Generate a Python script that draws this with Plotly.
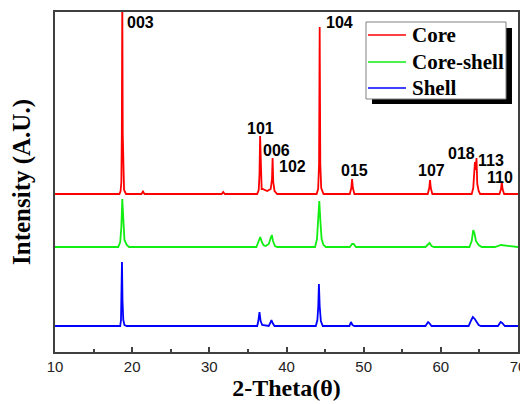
import plotly.graph_objects as go

# ---- data (2-theta in degrees, intensity above each pattern's own baseline, arbitrary units) ----
core_x = [10.0, 18.35, 18.5, 18.6, 18.66, 18.72, 18.78, 18.85, 18.95, 19.2,
          21.2, 21.4, 21.6, 31.6, 31.8, 32.0,
          36.2, 36.4, 36.5, 36.58, 36.66, 36.78, 36.9, 37.5, 37.95, 38.12, 38.2, 38.28, 38.45, 38.8,
          43.9, 44.1, 44.22, 44.3, 44.38, 44.5, 44.8,
          48.2, 48.4, 48.5, 48.6, 48.8,
          58.3, 58.5, 58.6, 58.7, 58.9,
          64.0, 64.2, 64.35, 64.42, 64.5, 64.62, 64.72, 64.9, 65.1,
          67.6, 67.8, 67.9, 68.0, 68.2, 70.0]
core_y = [0, 0, 3, 12, 60, 200, 60, 12, 4, 0,
          0, 2.5, 0, 0, 2, 0,
          0, 4, 20, 58, 20, 5, 5, 3, 5, 15, 36, 12, 3, 0,
          0, 5, 30, 167, 30, 6, 0,
          0, 6, 15, 6, 0,
          0, 6, 14, 6, 0,
          0, 6, 26, 32, 24, 36, 10, 3, 0,
          0, 5, 12, 5, 0, 0]

coreshell_x = [10.0, 18.2, 18.45, 18.6, 18.72, 18.85, 19.0, 19.3, 19.6,
               36.1, 36.4, 36.6, 36.8, 37.0, 37.3, 37.7, 37.95, 38.1, 38.25, 38.5, 38.8,
               43.7, 43.95, 44.1, 44.25, 44.4, 44.55, 44.8, 45.1,
               48.2, 48.5, 48.7, 49.0,
               58.0, 58.4, 58.55, 58.8, 59.1,
               63.7, 64.0, 64.2, 64.35, 64.55, 64.9, 65.3,
               67.0, 67.8, 68.3, 70.0]
coreshell_y = [0, 0, 5, 20, 48, 20, 7, 2, 0,
               0, 5, 10, 5, 2, 1, 3, 9, 12, 6, 1, 0,
               0, 8, 25, 46, 25, 8, 2, 0,
               0, 3, 3, 0,
               0, 3, 4, 1, 0,
               0, 6, 17, 14, 6, 2, 0,
               0, 2, 1.5, 0]

shell_x = [10.0, 18.45, 18.55, 18.62, 18.68, 18.75, 18.85, 19.0, 19.3,
           36.2, 36.35, 36.5, 36.65, 36.85, 37.7, 37.9, 38.05, 38.2, 38.45,
           43.8, 44.0, 44.12, 44.2, 44.3, 44.45, 44.7,
           48.15, 48.35, 48.55, 48.8,
           58.0, 58.35, 58.5, 58.8,
           63.6, 63.95, 64.15, 64.4, 64.6, 64.9, 65.2,
           67.4, 67.75, 67.95, 68.3, 70.0]
shell_y = [0, 0, 6, 25, 64, 25, 6, 1, 0,
           0, 5, 14, 5, 1, 0, 3, 6, 3, 0,
           0, 6, 20, 42, 20, 5, 0,
           0, 4, 1, 0,
           0, 4, 3, 0,
           0, 6, 9, 7, 4, 1, 0,
           0, 4, 3, 0, 0]

series_names = ["Core", "Core-shell", "Shell"]
series_offsets = [158, 105, 26]   # vertical stacking of the patterns

peak_labels = ["003", "104", "101", "006", "102", "015", "107", "018", "113", "110"]
label_x = [21.08, 46.93, 36.69, 38.64, 40.78, 48.81, 58.79, 62.68, 66.56, 67.67]
label_y = [329.5, 330, 224, 202, 185.5, 182, 182, 199, 191.5, 175]

x_ticks = [10, 20, 30, 40, 50, 60, 70]

colors = ["#ff0000", "#11ee11", "#0000ff"]

fig = go.Figure()
for name, xs, ys, off, col in zip(series_names,
                                  [core_x, coreshell_x, shell_x],
                                  [core_y, coreshell_y, shell_y],
                                  series_offsets, colors):
    fig.add_trace(go.Scatter(x=xs, y=[v + off for v in ys], mode="lines", name=name,
                             line=dict(color=col, width=1.8), showlegend=False))

for t, lx, ly in zip(peak_labels, label_x, label_y):
    fig.add_annotation(x=lx, y=ly, text=t, showarrow=False, xanchor="center", yanchor="middle",
                       font=dict(family="Liberation Sans", size=16, color="black", weight="bold"))

# ---- legend box drawn by hand (with drop shadow) ----
LX0, LX1, LY0, LY1 = 0.6717, 0.9741, 0.7441, 0.9706
fig.add_shape(type="rect", xref="paper", yref="paper", x0=0.6847, x1=0.9870, y0=0.7294, y1=0.9529,
              fillcolor="black", line=dict(width=0), layer="above")
fig.add_shape(type="rect", xref="paper", yref="paper", x0=LX0, x1=LX1, y0=LY0, y1=LY1,
              fillcolor="white", line=dict(color="#808080", width=1), layer="above")
row_y = [0.9324, 0.8529, 0.7765]
for name, col, ry in zip(series_names, colors, row_y):
    fig.add_shape(type="line", xref="paper", yref="paper", x0=0.6760, x1=0.7581, y0=ry, y1=ry,
                  line=dict(color=col, width=1.5), layer="above")
    fig.add_annotation(xref="paper", yref="paper", x=0.7667, y=ry, text=name, showarrow=False,
                       xanchor="left", yanchor="middle",
                       font=dict(family="Liberation Serif", size=21, color="black", weight="bold"))

# page has an 8 px body margin, so the figure is drawn 8 px in from the window's corner
fig.update_layout(
    width=520, height=396,
    margin=dict(l=47, r=10, t=4, b=52),
    paper_bgcolor="white", plot_bgcolor="white",
    showlegend=False,
    xaxis=dict(range=[10, 70], tickvals=x_ticks, ticktext=[str(v) for v in x_ticks],
               automargin=False,
               showgrid=False, zeroline=False, showline=True, linecolor="#404040", linewidth=2,
               mirror=True, ticks="inside", ticklen=5, tickwidth=1.5, tickcolor="#404040",
               minor=dict(ticks="inside", dtick=5, ticklen=3, tickwidth=1.5, tickcolor="#404040"),
               tickfont=dict(family="Liberation Sans", size=15, color="#222222"),
               title=dict(text="2-Theta(θ)", standoff=5,
                          font=dict(family="Liberation Serif", size=24, color="black", weight="bold"))),
    yaxis=dict(range=[0, 340], showticklabels=False, ticks="", showgrid=False, zeroline=False,
               automargin=False,
               showline=True, linecolor="#404040", linewidth=2, mirror=True,
               title=dict(text="Intensity (A.U.)", standoff=17,
                          font=dict(family="Liberation Serif", size=25, color="black", weight="bold"))),
)

fig.write_html("out.html")
